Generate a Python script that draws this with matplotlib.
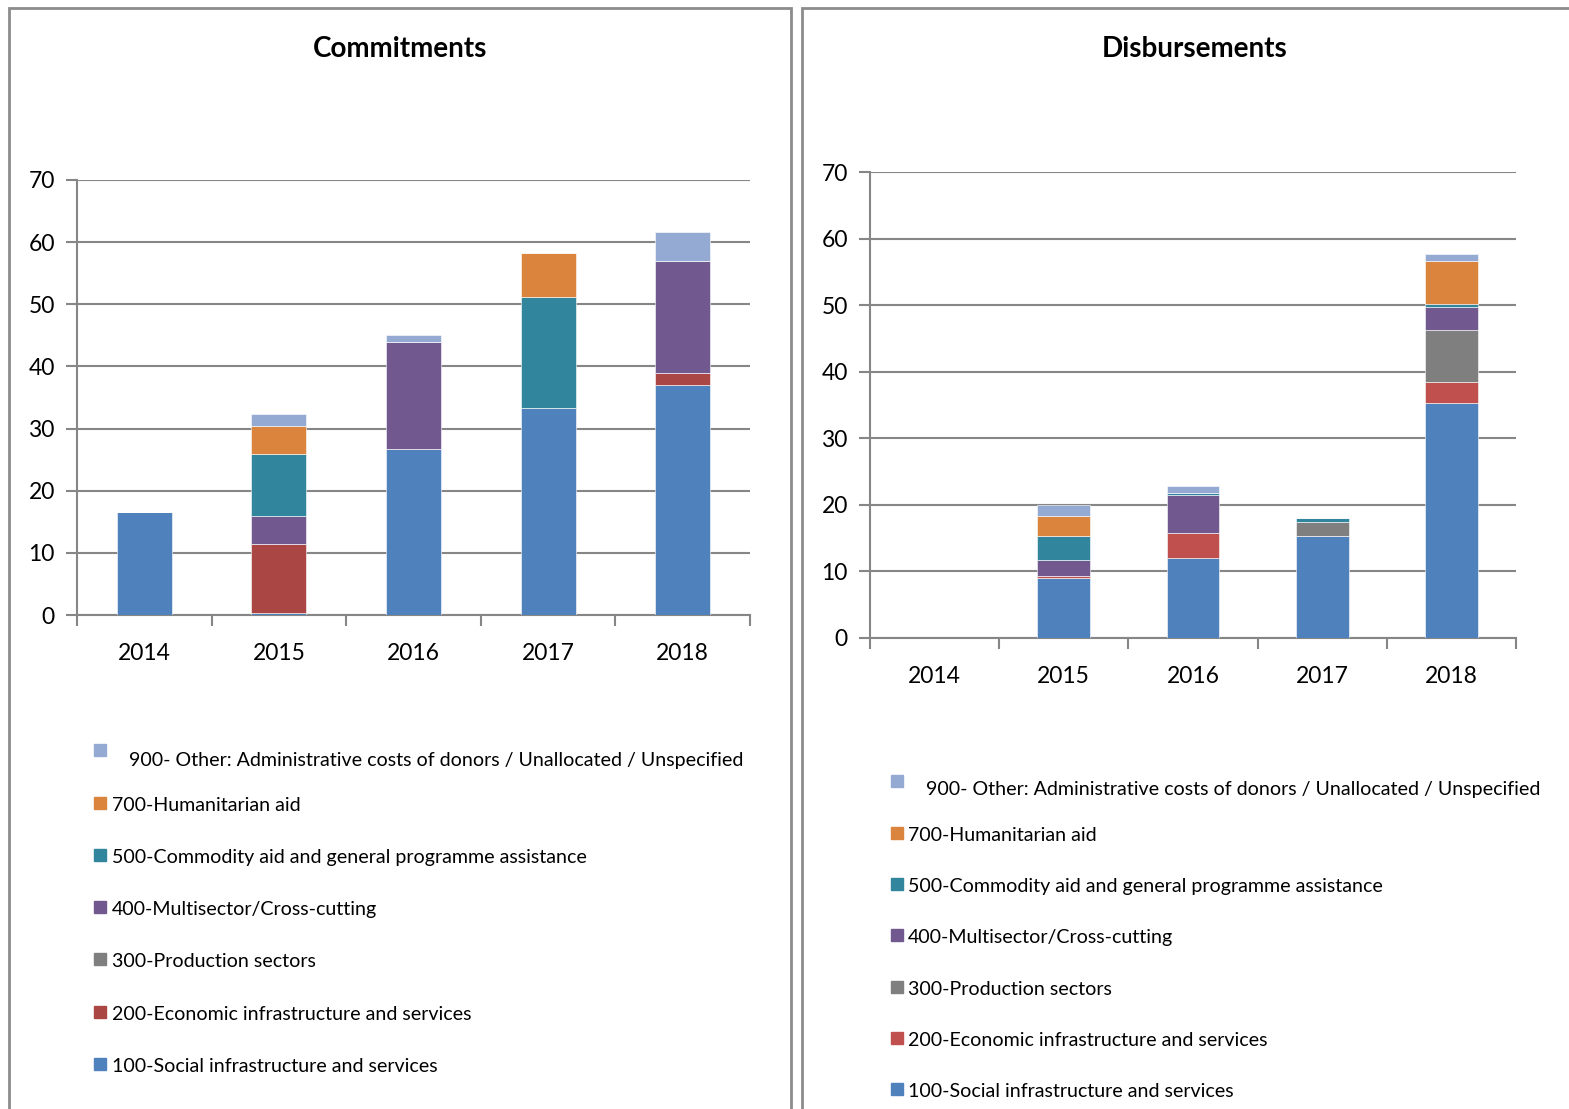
import numpy as np
import matplotlib
matplotlib.use("Agg")
import matplotlib.pyplot as plt
from matplotlib.patches import Rectangle

plt.rcParams['font.family'] = ['Lato', 'DejaVu Sans']

years = ['2014', '2015', '2016', '2017', '2018']
sectors = ['100-Social infrastructure and services',
           '200-Economic infrastructure and services',
           '300-Production sectors',
           '400-Multisector/Cross-cutting',
           '500-Commodity aid and general programme assistance',
           '700-Humanitarian aid',
           '900- Other: Administrative costs of donors / Unallocated / Unspecified']

# commitments per sector, years 2014..2018
com_100 = [16.5, 0.4, 26.7, 33.3, 37.0]
com_200 = [0, 11.0, 0, 0, 2.0]
com_300 = [0, 0, 0, 0, 0]
com_400 = [0, 4.6, 17.2, 0, 17.9]
com_500 = [0, 9.9, 0, 17.9, 0]
com_700 = [0, 4.5, 0, 7.1, 0]
com_900 = [0, 1.9, 1.1, 0, 4.7]

# disbursements per sector
dis_100 = [0, 9.05, 12.0, 15.25, 35.3]
dis_200 = [0, 0.2, 3.75, 0, 3.1]
dis_300 = [0, 0, 0, 2.15, 7.85]
dis_400 = [0, 2.4, 5.8, 0, 3.4]
dis_500 = [0, 3.6, 0.25, 0.6, 0.45]
dis_700 = [0, 3.15, 0, 0, 6.55]
dis_900 = [0, 1.65, 1.1, 0, 1.05]

com_colors = ['#4F81BD', '#AA4644', '#7F7F7F', '#71588F', '#31859C', '#DB843D', '#95AAD2']
dis_colors = ['#4F81BD', '#C0504D', '#7F7F7F', '#71588F', '#31859C', '#DB843D', '#95AAD2']

W, H = 1569, 1109
fig = plt.figure(figsize=(W / 100, H / 100), dpi=100)


def fx(x):
    return x / W


def fy(y):
    return 1 - y / H


# panel frames
for x0, x1 in [(9, 791), (802, 1580)]:
    fig.add_artist(Rectangle((fx(x0), fy(1120)), fx(x1 - x0), (1120 - 8) / H,
                             transform=fig.transFigure, fill=False,
                             edgecolor='#8C8C8C', linewidth=2))


def panel(box, data, colors, title, title_xy, labelpad, legend_cfg):
    left, right, top, bottom = box
    ax = fig.add_axes([fx(left), fy(bottom), fx(right - left), (bottom - top) / H])
    x = np.arange(len(years))
    base = np.zeros(len(years))
    for vals, c in zip(data, colors):
        ax.bar(x, vals, 0.41, bottom=base, color=c, edgecolor='white', linewidth=0.4, zorder=3)
        base += np.array(vals)
    ax.set_xlim(-0.5, len(years) - 0.5)
    ax.set_ylim(0, 70)
    ax.set_yticks(range(0, 71, 10))
    ax.yaxis.grid(True, color='#868686', linewidth=1.5, zorder=0)
    ax.set_xticks(x)
    ax.set_xticklabels(years)
    ax.set_xticks(np.arange(-0.5, len(years)), minor=True)
    ax.tick_params(axis='x', which='major', length=0, pad=labelpad, labelsize=16.5)
    ax.tick_params(axis='x', which='minor', length=8, width=1.5, color='#868686')
    ax.tick_params(axis='y', length=8, width=1.5, color='#868686', pad=8, labelsize=16.5)
    for s in ['top', 'right']:
        ax.spines[s].set_visible(False)
    for s in ['left', 'bottom']:
        ax.spines[s].set_color('#868686')
        ax.spines[s].set_linewidth(1.5)
    fig.text(fx(title_xy[0]), fy(title_xy[1]), title, ha='center', va='center',
             fontsize=20, fontweight='bold')

    # legend, top entry is 900
    mx, tx, tx_first, ys, mark_first = legend_cfg
    for i, k in enumerate(range(len(sectors) - 1, -1, -1)):
        yc = ys[i]
        my = mark_first if i == 0 else yc
        fig.add_artist(Rectangle((fx(mx), fy(my + 6)), fx(12), 12 / H,
                                 transform=fig.transFigure, color=colors[k]))
        fig.text(fx(tx_first if i == 0 else tx), fy(yc + 2.5), sectors[k],
                 ha='left', va='center', fontsize=14.1)
    return ax


panel((77, 750, 180, 615),
      [com_100, com_200, com_300, com_400, com_500, com_700, com_900],
      com_colors, 'Commitments', (400, 49), 20,
      (94, 112, 129, [758, 803, 855, 907, 959, 1012, 1064], 750))

panel((870, 1516, 172, 638),
      [dis_100, dis_200, dis_300, dis_400, dis_500, dis_700, dis_900],
      dis_colors, 'Disbursements', (1195, 49), 20,
      (891, 908, 926, [787, 833, 884, 935, 987, 1038, 1089], 781))

fig.savefig('out.png', dpi=100)
